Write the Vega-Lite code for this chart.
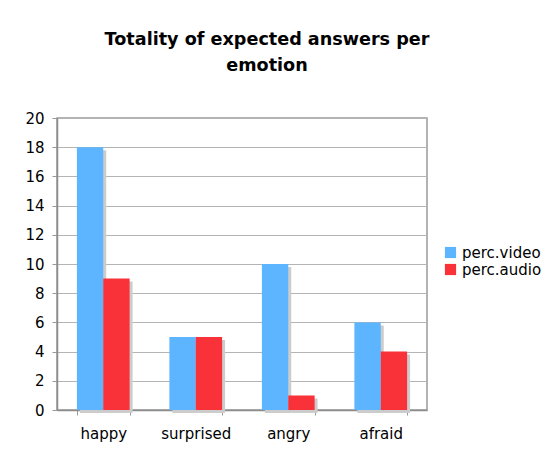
{
  "$schema": "https://vega.github.io/schema/vega-lite/v6.json",
  "autosize": {"type": "none"},
  "padding": {"left": 57, "top": 118, "right": 123, "bottom": 44},
  "width": 370,
  "height": 292,
  "background": "white",
  "title": {
    "text": ["Totality of expected answers per", "emotion"],
    "font": "DejaVu Sans",
    "fontSize": 17.6,
    "fontWeight": "bold",
    "color": "black",
    "anchor": "middle",
    "dx": 25,
    "offset": 36,
    "lineHeight": 26
  },
  "data": {
    "values": [
      {"emotion": "happy", "series": "perc.video", "value": 18},
      {"emotion": "happy", "series": "perc.audio", "value": 9},
      {"emotion": "surprised", "series": "perc.video", "value": 5},
      {"emotion": "surprised", "series": "perc.audio", "value": 5},
      {"emotion": "angry", "series": "perc.video", "value": 10},
      {"emotion": "angry", "series": "perc.audio", "value": 1},
      {"emotion": "afraid", "series": "perc.video", "value": 6},
      {"emotion": "afraid", "series": "perc.audio", "value": 4}
    ]
  },
  "encoding": {
    "x": {
      "field": "emotion",
      "type": "nominal",
      "sort": ["happy", "surprised", "angry", "afraid"],
      "scale": {"paddingInner": 0.43, "paddingOuter": 0.215},
      "axis": {
        "title": null,
        "labelAngle": 0,
        "tickBand": "extent",
        "labelFont": "DejaVu Sans",
        "labelFontSize": 15,
        "labelColor": "black",
        "labelPadding": 11,
        "tickSize": 5,
        "tickColor": "#999999",
        "domainColor": "#8c8c8c",
        "domainWidth": 1.5
      }
    },
    "y": {
      "field": "value",
      "type": "quantitative",
      "scale": {"domain": [0, 20], "nice": false},
      "axis": {
        "title": null,
        "values": [0, 2, 4, 6, 8, 10, 12, 14, 16, 18, 20],
        "labelFont": "DejaVu Sans",
        "labelFontSize": 15,
        "labelColor": "black",
        "labelPadding": 8,
        "tickSize": 5,
        "tickColor": "#999999",
        "domainColor": "#8c8c8c",
        "domainWidth": 1.5,
        "gridColor": "#b4b4b4",
        "gridWidth": 1
      }
    }
  },
  "resolve": {"scale": {"xOffset": "independent"}},
  "layer": [
    {
      "mark": {"type": "bar", "color": "#cccccc", "yOffset": 3},
      "encoding": {
        "xOffset": {"field": "series", "type": "nominal", "sort": ["perc.video", "perc.audio"], "scale": {"range": [3, 55.7]}}
      }
    },
    {
      "mark": {"type": "bar"},
      "encoding": {
        "xOffset": {"field": "series", "type": "nominal", "sort": ["perc.video", "perc.audio"]},
        "color": {
          "field": "series",
          "type": "nominal",
          "scale": {"domain": ["perc.video", "perc.audio"], "range": ["#5db4ff", "#f93239"]},
          "legend": {
            "title": null,
            "orient": "none",
            "legendX": 386,
            "legendY": 127,
            "symbolType": "square",
            "symbolSize": 125,
            "symbolStrokeWidth": 0,
            "labelFont": "DejaVu Sans",
            "labelFontSize": 15,
            "labelColor": "black",
            "rowPadding": 1,
            "labelOffset": 4
          }
        }
      }
    }
  ],
  "config": {
    "view": {"stroke": "#999999", "strokeWidth": 1.5}
  }
}
